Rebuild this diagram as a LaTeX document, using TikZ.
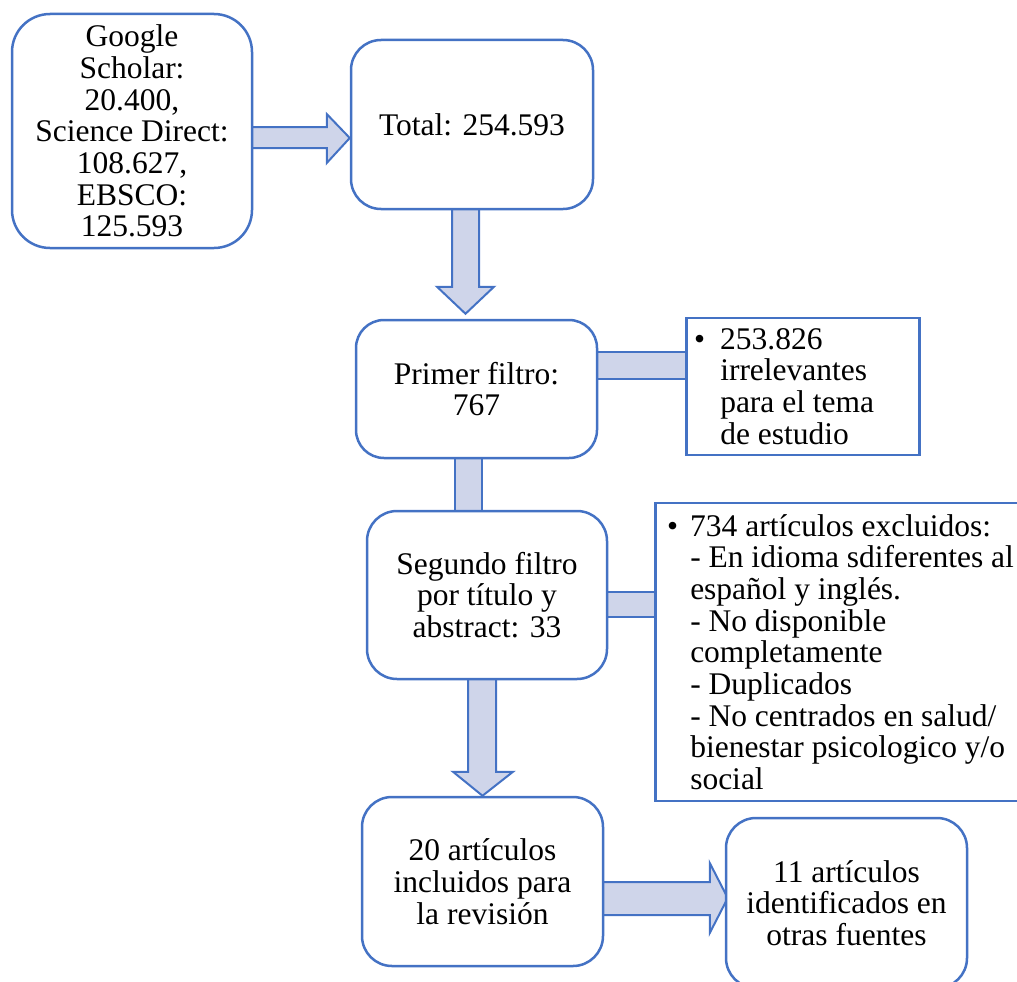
\documentclass[tikz,border=0pt]{standalone}
\usepackage{fontspec}
\setmainfont{Liberation Serif}
\usetikzlibrary{calc,backgrounds}
\definecolor{bord}{HTML}{4472C4}
\definecolor{afill}{HTML}{CFD5EA}
\tikzset{
  txt/.style={font=\fontsize{31.5}{31.7}\selectfont},
  rbox/.style={txt, draw=bord, line width=2.5pt, fill=white, rounded corners=30pt, align=center, inner sep=0pt},
  sbox/.style={txt, draw=bord, line width=2.5pt, fill=white, align=flush left, inner ysep=0pt, anchor=west},
  barrow/.style={draw=bord, line width=2pt, fill=afill, line join=miter},
}
\begin{document}
\begin{tikzpicture}[x=1pt,y=-1pt]
\useasboundingbox (0,0) rectangle (1017,982);
\clip (0,0) rectangle (1017,982);

\node[rbox, rounded corners=38pt, minimum width=240pt, minimum height=234pt] (A) at (132,131)
  {Google\\Scholar:\\20.400,\\Science Direct:\\108.627,\\EBSCO:\\125.593};
\node[rbox, minimum width=242pt, minimum height=169pt] (B) at (472,124.5) {Total: 254.593};
\node[rbox, rounded corners=28pt, minimum width=241pt, minimum height=138pt] (C) at (476.5,389) {Primer filtro:\\767};
\node[sbox, minimum height=137pt, text width=165pt, inner xsep=34pt] (D) at (685,386.5)
  {\llap{\textbullet\hspace{15pt}}253.826\\irrelevantes\\para el tema\\de estudio};
\node[rbox, minimum width=240pt, minimum height=168pt] (E) at (487,595) {Segundo filtro\\por título y\\abstract: 33};
\node[sbox, minimum height=298pt, text width=360pt, inner xsep=35pt] (F) at (654,652)
  {\llap{\textbullet\hspace{12pt}}734 artículos excluidos:\\- En idioma sdiferentes al\\español y inglés.\\- No disponible\\completamente\\- Duplicados\\- No centrados en salud/\\bienestar psicologico y/o\\social};
\node[rbox, minimum width=241pt, minimum height=169pt] (G) at (482.5,881.5) {20 artículos\\incluidos para\\la revisión};
\node[rbox, minimum width=241pt, minimum height=170pt] (H) at (846.5,903) {11 artículos\\identificados en\\otras fuentes};

\begin{scope}[on background layer]
\draw[barrow] let \p1=(A.east), \p2=(B.west) in
  (\x1-4pt,-127pt) -- (\x2-23pt,-127pt) -- (\x2-23pt,-114pt) -- (\x2,-138pt)
  -- (\x2-23pt,-163pt) -- (\x2-23pt,-148pt) -- (\x1-4pt,-148pt) -- cycle;
\draw[barrow] let \p1=(B.south), \p2=(C.north) in
  (452pt,\y1+4pt) -- (452pt,\y2+32pt) -- (437pt,\y2+32pt) -- (465.5pt,\y2+5pt)
  -- (494pt,\y2+32pt) -- (479pt,\y2+32pt) -- (479pt,\y1+4pt) -- cycle;
\draw[barrow] let \p1=(C.east), \p2=(D.west) in
  (\x1-4pt,-352pt) rectangle (\x2+2pt,-379pt);
\draw[barrow] let \p1=(C.south), \p2=(E.north) in
  (455pt,\y1+4pt) rectangle (482pt,\y2-4pt);
\draw[barrow] let \p1=(E.east), \p2=(F.west) in
  (\x1-4pt,-592pt) rectangle (\x2+2pt,-617pt);
\draw[barrow] let \p1=(E.south), \p2=(G.north) in
  (468pt,\y1+4pt) -- (468pt,\y2+24pt) -- (453pt,\y2+24pt) -- (482.5pt,\y2)
  -- (513pt,\y2+24pt) -- (496pt,\y2+24pt) -- (496pt,\y1+4pt) -- cycle;
\draw[barrow] let \p1=(G.east), \p2=(H.west) in
  (\x1-4pt,-882pt) -- (\x2-15pt,-882pt) -- (\x2-15pt,-863pt) -- (\x2+3pt,-898pt)
  -- (\x2-15pt,-933pt) -- (\x2-15pt,-915pt) -- (\x1-4pt,-915pt) -- cycle;
\end{scope}
\end{tikzpicture}
\end{document}
